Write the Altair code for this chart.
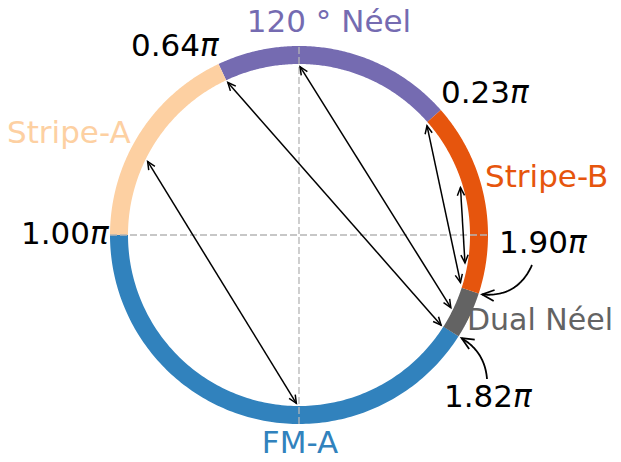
import numpy as np
import pandas as pd
import altair as alt

# ---------------- data ----------------
phase_names = ["120 ° Néel", "Stripe-A", "FM-A", "Dual Néel", "Stripe-B"]
phase_start = [0.23, 0.64, 1.00, 1.82, 1.90]   # in units of pi
phase_end = [0.64, 1.00, 1.82, 1.90, 2.23]
phase_colors = ["#756bb1", "#fdd0a2", "#3182bd", "#636363", "#e6550d"]

arrow_from = [0.856, 0.639, 0.498, 0.225, 0.091]   # in units of pi
arrow_to = [1.495, 1.820, 1.858, 1.909, 1.947]

boundary_values = ["0.64", "0.23", "1.00", "1.90", "1.82"]
callout_values = [1.90, 1.82]

# ---------------- layout ----------------
PX = 180.0            # pixels per unit radius
W, H = 605, 446
CX, CY = 291, 227     # circle centre in chart pixels
xdom = [-CX / PX, (W - CX) / PX]
ydom = [-(H - CY) / PX, CY / PX]
FONT = "DejaVu Sans"
FS = 31


def u(px_x, px_y):
    """reference-pixel position -> unit coordinates"""
    return ((px_x - 8 - CX) / PX, (CY - (px_y - 8)) / PX)


X = lambda: alt.X("x:Q", scale=alt.Scale(domain=xdom, nice=False, zero=False), axis=None)
Y = lambda: alt.Y("y:Q", scale=alt.Scale(domain=ydom, nice=False, zero=False), axis=None)

# ring
rows = []
for name, s, e, c in zip(phase_names, phase_start, phase_end, phase_colors):
    for i, t in enumerate(np.linspace(s, e, 150)):
        rows.append(dict(phase=name, i=i, x=np.cos(np.pi * t), y=np.sin(np.pi * t), c=c))
ring = alt.Chart(pd.DataFrame(rows)).mark_line(strokeWidth=18, strokeCap="butt").encode(
    x=X(), y=Y(), color=alt.Color("c:N", scale=None), detail="phase:N", order="i:Q")

# dashed axes
dash_df = pd.DataFrame({"x": [-1.05, 1.05, 0, 0], "y": [0, 0, -1.05, 1.05],
                        "g": ["h", "h", "v", "v"], "i": [0, 1, 0, 1]})
dashes = alt.Chart(dash_df).mark_line(strokeWidth=1.3, strokeDash=[7, 3], color="#b5b5b5").encode(
    x=X(), y=Y(), detail="g:N", order="i:Q")


def head(tip, direction, L, Wd, sid, out):
    d = np.array(direction) / np.linalg.norm(direction)
    n = np.array([-d[1], d[0]])
    tip = np.array(tip)
    a1 = tip - L * d + Wd * n
    a2 = tip - L * d - Wd * n
    for i, p in enumerate([a1, tip, a2]):
        out.append(dict(s=sid, i=i, x=p[0], y=p[1]))


# main double-headed arrows
R_A = 0.935
arows = []
for k, (a, b) in enumerate(zip(arrow_from, arrow_to)):
    p1 = R_A * np.array([np.cos(np.pi * a), np.sin(np.pi * a)])
    p2 = R_A * np.array([np.cos(np.pi * b), np.sin(np.pi * b)])
    arows.append(dict(s=f"a{k}", i=0, x=p1[0], y=p1[1]))
    arows.append(dict(s=f"a{k}", i=1, x=p2[0], y=p2[1]))
    head(p1, p1 - p2, 8 / PX, 3.6 / PX, f"h{k}a", arows)
    head(p2, p2 - p1, 8 / PX, 3.6 / PX, f"h{k}b", arows)
arrows = alt.Chart(pd.DataFrame(arows)).mark_line(strokeWidth=1.5, color="black").encode(
    x=X(), y=Y(), detail="s:N", order="i:Q")

# curved call-out arrows
call_start = [u(532, 265), u(487, 379)]
call_bend = [0.355, -0.26]
crow = []
for k, (v, st, kb) in enumerate(zip(callout_values, call_start, call_bend)):
    T = 1.07 * np.array([np.cos(np.pi * v), np.sin(np.pi * v)])
    S = np.array(st)
    d = T - S
    C = (S + T) / 2 + kb * np.array([-d[1], d[0]])
    for i, t in enumerate(np.linspace(0, 1, 40)):
        p = (1 - t) ** 2 * S + 2 * (1 - t) * t * C + t ** 2 * T
        crow.append(dict(s=f"c{k}", i=i, x=p[0], y=p[1]))
    head(T, T - C, 12 / PX, 5.5 / PX, f"ch{k}", crow)
callouts = alt.Chart(pd.DataFrame(crow)).mark_line(strokeWidth=1.8, color="black").encode(
    x=X(), y=Y(), detail="s:N", order="i:Q")

# phase labels
ph_pos = [u(329, 32), u(7, 143), u(300, 453), u(467, 330), u(485, 187)]
ph_align = ["center", "left", "center", "left", "left"]
ph_size = [FS, FS, FS, 30, FS]
lab = pd.DataFrame({"t": phase_names, "c": phase_colors, "fs": ph_size,
                    "x": [p[0] for p in ph_pos], "y": [p[1] for p in ph_pos], "a": ph_align})


def text_layer(df, align, **kw):
    return alt.Chart(df).mark_text(font=FONT, align=align, baseline="alphabetic", **kw).encode(
        x=X(), y=Y(), text="t:N", color=alt.Color("c:N", scale=None),
        size=alt.Size("fs:Q", scale=None))


ph_left = text_layer(lab[lab.a == "left"], "left")
ph_center = text_layer(lab[lab.a == "center"], "center")

# boundary value labels (number + italic pi)
bv_split = [u(200, 56), u(510, 103), u(90, 244), u(568, 253), u(513, 407)]
bv = pd.DataFrame({"t": boundary_values, "c": ["black"] * 5, "fs": [FS] * 5,
                   "x": [p[0] for p in bv_split], "y": [p[1] for p in bv_split]})
bv_num = text_layer(bv, "right")
bv_pi = text_layer(bv.assign(t="π"), "left", fontStyle="italic")

chart = alt.layer(ring, dashes, arrows, callouts, ph_left, ph_center, bv_num, bv_pi).properties(
    width=W, height=H, padding=0, autosize=alt.AutoSizeParams(type="none")
).configure_view(stroke=None)

chart.save("out.html", embed_options={"renderer": "svg", "actions": False})
